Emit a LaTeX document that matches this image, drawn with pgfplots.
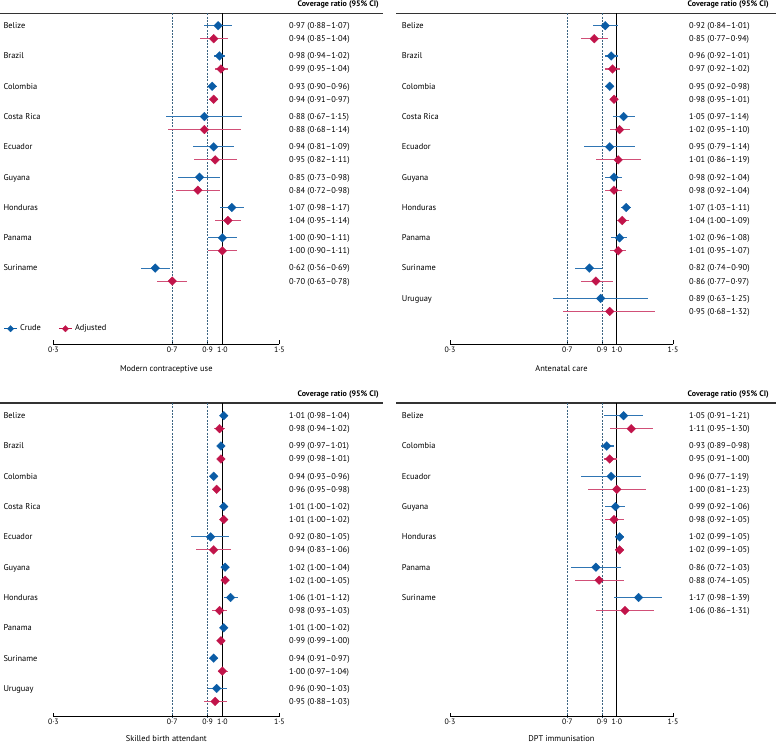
\documentclass[border=0pt]{standalone}
\usepackage{fontspec}
\setmainfont{PT Sans}
\usepackage{pgfplots}
\usepackage{pgfplotstable}
\pgfplotsset{compat=1.18}

\definecolor{cblue}{RGB}{10,92,166}
\definecolor{cred}{RGB}{193,20,74}
\definecolor{dashcol}{RGB}{60,100,130}

\pgfplotstableread{
row ce cl ch ae al ah
0 0.97 0.88 1.07 0.94 0.85 1.04
1 0.98 0.94 1.02 0.99 0.95 1.04
2 0.93 0.90 0.96 0.94 0.91 0.97
3 0.88 0.67 1.15 0.88 0.68 1.14
4 0.94 0.81 1.09 0.95 0.82 1.11
5 0.85 0.73 0.98 0.84 0.72 0.98
6 1.07 0.98 1.17 1.04 0.95 1.14
7 1.00 0.90 1.11 1.00 0.90 1.11
8 0.62 0.56 0.69 0.70 0.63 0.78
}\tmcu

\pgfplotstableread{
row ce cl ch ae al ah
0 0.92 0.84 1.01 0.85 0.77 0.94
1 0.96 0.92 1.01 0.97 0.92 1.02
2 0.95 0.92 0.98 0.98 0.95 1.01
3 1.05 0.97 1.14 1.02 0.95 1.10
4 0.95 0.79 1.14 1.01 0.86 1.19
5 0.98 0.92 1.04 0.98 0.92 1.04
6 1.07 1.03 1.11 1.04 1.00 1.09
7 1.02 0.96 1.08 1.01 0.95 1.07
8 0.82 0.74 0.90 0.86 0.77 0.97
9 0.89 0.63 1.25 0.95 0.68 1.32
}\tanc

\pgfplotstableread{
row ce cl ch ae al ah
0 1.01 0.98 1.04 0.98 0.94 1.02
1 0.99 0.97 1.01 0.99 0.98 1.01
2 0.94 0.93 0.96 0.96 0.95 0.98
3 1.01 1.00 1.02 1.01 1.00 1.02
4 0.92 0.80 1.05 0.94 0.83 1.06
5 1.02 1.00 1.04 1.02 1.00 1.05
6 1.06 1.01 1.12 0.98 0.93 1.03
7 1.01 1.00 1.02 0.99 0.99 1.00
8 0.94 0.91 0.97 1.00 0.97 1.04
9 0.96 0.90 1.03 0.95 0.88 1.03
}\tsba

\pgfplotstableread{
row ce cl ch ae al ah
0 1.05 0.91 1.21 1.11 0.95 1.30
1 0.93 0.89 0.98 0.95 0.91 1.00
2 0.96 0.77 1.19 1.00 0.81 1.23
3 0.99 0.92 1.06 0.98 0.92 1.05
4 1.02 0.99 1.05 1.02 0.99 1.05
5 0.86 0.72 1.03 0.88 0.74 1.05
6 1.17 0.98 1.39 1.06 0.86 1.31
}\tdpt

\newcommand\txtfont{\fontsize{8.4}{9.5}\selectfont}
\newcommand\tickfont{\fontsize{7.8}{9}\selectfont}
\newcommand\hdrfont{\fontsize{8}{9}\selectfont\bfseries}

\pgfplotsset{
  every axis/.append style={
    scale only axis, anchor=south west, clip=false,
    xmin=0.3, xmax=1.5,
    axis y line=none, axis x line=bottom,
    x axis line style={-, black, line width=0.8pt},
    xtick={0.3,0.7,0.9,1,1.5},
    xticklabels={0·3,0·7,0·9,1·0,1·5},
    minor xtick={},
    tick align=inside, major tick length=4pt,
    xtick style={black, line width=0.8pt},
    xticklabel style={font=\tickfont, inner sep=1pt, yshift=-1pt},
  },
}

% #1 x of names, #2 x of CI text, #3 y of first crude row, #4 list
\newcommand\rowtexts[4]{%
  \foreach \nm/\ca/\cb [count=\i from 0] in {#4}{%
    \pgfmathsetmacro\yy{-(#3+30.3*\i)-2.9}%
    \pgfmathsetmacro\yb{\yy-13}%
    \node[anchor=base west, inner sep=0pt] at (#1pt,\yy pt) {\nm};
    \node[anchor=base west, inner sep=0pt] at (#2pt,\yy pt) {\ca};
    \node[anchor=base west, inner sep=0pt] at (#2pt,\yb pt) {\cb};
  }}

\begin{document}
\begin{tikzpicture}[every node/.style={font=\txtfont}]
\useasboundingbox (0pt,0pt) rectangle (776pt,-743pt);

% ---------- rules and headers ----------
\draw[black!80, line width=1.1pt] (0pt,-13.3pt) -- (383pt,-13.3pt);
\draw[black!80, line width=1.1pt] (396pt,-13.3pt) -- (776pt,-13.3pt);
\draw[black!80, line width=1.1pt] (0pt,-403pt) -- (383pt,-403pt);
\draw[black!80, line width=1.1pt] (396pt,-403pt) -- (776pt,-403pt);
\node[anchor=base east, inner sep=0pt, font=\hdrfont] at (379pt,-6.8pt) {Coverage ratio (95\% CI)};
\node[anchor=base east, inner sep=0pt, font=\hdrfont] at (769pt,-6.8pt) {Coverage ratio (95\% CI)};
\node[anchor=base east, inner sep=0pt, font=\hdrfont] at (379pt,-396.5pt) {Coverage ratio (95\% CI)};
\node[anchor=base east, inner sep=0pt, font=\hdrfont] at (769pt,-396.5pt) {Coverage ratio (95\% CI)};

% ---------- panel 1: modern contraceptive use ----------
\begin{axis}[xmode=log, at={(53.3pt,-344.3pt)}, width=226pt, height=331pt, ymin=-344.3, ymax=-13.3,
  legend columns=2, legend cell align=left,
  legend style={draw=none, fill=none, at={(-0.2212,0.047)}, anchor=west, inner sep=0pt,
    font=\txtfont, /tikz/every even column/.append style={column sep=15pt},
    nodes={inner xsep=2.5pt}},
  legend image code/.code={\draw[mark repeat=2,mark phase=2,#1] plot coordinates {(0pt,0pt) (6.5pt,0pt) (13pt,0pt)};}]
\addplot[dashcol, line width=0.7pt, dash pattern=on 2pt off 1.3pt, forget plot] coordinates {(0.7,-13.3) (0.7,-344.3)};
\addplot[dashcol, line width=0.7pt, dash pattern=on 2pt off 1.3pt, forget plot] coordinates {(0.9,-13.3) (0.9,-344.3)};
\addplot[black, line width=0.9pt, forget plot] coordinates {(1,-13.3) (1,-344.3)};
\addplot[forget plot, only marks, mark=square*, mark size=3.1pt, mark options={rotate=45, fill=cblue, draw=cblue, line width=0.2pt},
  error bars/x dir=both, error bars/x explicit, error bars/error mark=none, error bars/error bar style={cblue!85, line width=1.1pt}]
  table[x=ce, y expr={-(25.7+30.3*\thisrow{row})},
  x error plus expr={\thisrow{ch}-\thisrow{ce}}, x error minus expr={\thisrow{ce}-\thisrow{cl}}] {\tmcu};
\addplot[forget plot, only marks, mark=square*, mark size=3.1pt, mark options={rotate=45, fill=cred, draw=cred, line width=0.2pt},
  error bars/x dir=both, error bars/x explicit, error bars/error mark=none, error bars/error bar style={cred!75, line width=1.1pt}]
  table[x=ae, y expr={-(38.7+30.3*\thisrow{row})},
  x error plus expr={\thisrow{ah}-\thisrow{ae}}, x error minus expr={\thisrow{ae}-\thisrow{al}}] {\tmcu};
\addlegendimage{cblue, line width=1.1pt, mark=square*, mark size=2.3pt, mark options={rotate=45, fill=cblue, line width=0.2pt}}
\addlegendentry{Crude}
\addlegendimage{cred, line width=1.1pt, mark=square*, mark size=2.3pt, mark options={rotate=45, fill=cred, line width=0.2pt}}
\addlegendentry{Adjusted}
\end{axis}
\rowtexts{3.3}{289}{25.7}{Belize/0·97 (0·88–1·07)/0·94 (0·85–1·04),
Brazil/0·98 (0·94–1·02)/0·99 (0·95–1·04),
Colombia/0·93 (0·90–0·96)/0·94 (0·91–0·97),
Costa Rica/0·88 (0·67–1·15)/0·88 (0·68–1·14),
Ecuador/0·94 (0·81–1·09)/0·95 (0·82–1·11),
Guyana/0·85 (0·73–0·98)/0·84 (0·72–0·98),
Honduras/1·07 (0·98–1·17)/1·04 (0·95–1·14),
Panama/1·00 (0·90–1·11)/1·00 (0·90–1·11),
Suriname/0·62 (0·56–0·69)/0·70 (0·63–0·78)}
\node[anchor=base] at (166.3pt,-371pt) {Modern contraceptive use};

% ---------- panel 2: antenatal care ----------
\begin{axis}[xmode=log, at={(450pt,-344.3pt)}, width=223pt, height=331pt, ymin=-344.3, ymax=-13.3]
\addplot[dashcol, line width=0.7pt, dash pattern=on 2pt off 1.3pt, forget plot] coordinates {(0.7,-13.3) (0.7,-344.3)};
\addplot[dashcol, line width=0.7pt, dash pattern=on 2pt off 1.3pt, forget plot] coordinates {(0.9,-13.3) (0.9,-344.3)};
\addplot[black, line width=0.9pt, forget plot] coordinates {(1,-13.3) (1,-344.3)};
\addplot[forget plot, only marks, mark=square*, mark size=3.1pt, mark options={rotate=45, fill=cblue, draw=cblue, line width=0.2pt},
  error bars/x dir=both, error bars/x explicit, error bars/error mark=none, error bars/error bar style={cblue!85, line width=1.1pt}]
  table[x=ce, y expr={-(25.7+30.3*\thisrow{row})},
  x error plus expr={\thisrow{ch}-\thisrow{ce}}, x error minus expr={\thisrow{ce}-\thisrow{cl}}] {\tanc};
\addplot[forget plot, only marks, mark=square*, mark size=3.1pt, mark options={rotate=45, fill=cred, draw=cred, line width=0.2pt},
  error bars/x dir=both, error bars/x explicit, error bars/error mark=none, error bars/error bar style={cred!75, line width=1.1pt}]
  table[x=ae, y expr={-(38.7+30.3*\thisrow{row})},
  x error plus expr={\thisrow{ah}-\thisrow{ae}}, x error minus expr={\thisrow{ae}-\thisrow{al}}] {\tanc};
\end{axis}
\rowtexts{401.7}{689}{25.7}{Belize/0·92 (0·84–1·01)/0·85 (0·77–0·94),
Brazil/0·96 (0·92–1·01)/0·97 (0·92–1·02),
Colombia/0·95 (0·92–0·98)/0·98 (0·95–1·01),
Costa Rica/1·05 (0·97–1·14)/1·02 (0·95–1·10),
Ecuador/0·95 (0·79–1·14)/1·01 (0·86–1·19),
Guyana/0·98 (0·92–1·04)/0·98 (0·92–1·04),
Honduras/1·07 (1·03–1·11)/1·04 (1·00–1·09),
Panama/1·02 (0·96–1·08)/1·01 (0·95–1·07),
Suriname/0·82 (0·74–0·90)/0·86 (0·77–0·97),
Uruguay/0·89 (0·63–1·25)/0·95 (0·68–1·32)}
\node[anchor=base] at (561.5pt,-371pt) {Antenatal care};

% ---------- panel 3: skilled birth attendant ----------
\begin{axis}[xmode=log, at={(53.3pt,-716.7pt)}, width=226pt, height=313.7pt, ymin=-716.7, ymax=-403]
\addplot[dashcol, line width=0.7pt, dash pattern=on 2pt off 1.3pt, forget plot] coordinates {(0.7,-403) (0.7,-716.7)};
\addplot[dashcol, line width=0.7pt, dash pattern=on 2pt off 1.3pt, forget plot] coordinates {(0.9,-403) (0.9,-716.7)};
\addplot[black, line width=0.9pt, forget plot] coordinates {(1,-403) (1,-716.7)};
\addplot[forget plot, only marks, mark=square*, mark size=3.1pt, mark options={rotate=45, fill=cblue, draw=cblue, line width=0.2pt},
  error bars/x dir=both, error bars/x explicit, error bars/error mark=none, error bars/error bar style={cblue!85, line width=1.1pt}]
  table[x=ce, y expr={-(415.7+30.3*\thisrow{row})},
  x error plus expr={\thisrow{ch}-\thisrow{ce}}, x error minus expr={\thisrow{ce}-\thisrow{cl}}] {\tsba};
\addplot[forget plot, only marks, mark=square*, mark size=3.1pt, mark options={rotate=45, fill=cred, draw=cred, line width=0.2pt},
  error bars/x dir=both, error bars/x explicit, error bars/error mark=none, error bars/error bar style={cred!75, line width=1.1pt}]
  table[x=ae, y expr={-(428.7+30.3*\thisrow{row})},
  x error plus expr={\thisrow{ah}-\thisrow{ae}}, x error minus expr={\thisrow{ae}-\thisrow{al}}] {\tsba};
\end{axis}
\rowtexts{3.3}{289}{415.7}{Belize/1·01 (0·98–1·04)/0·98 (0·94–1·02),
Brazil/0·99 (0·97–1·01)/0·99 (0·98–1·01),
Colombia/0·94 (0·93–0·96)/0·96 (0·95–0·98),
Costa Rica/1·01 (1·00–1·02)/1·01 (1·00–1·02),
Ecuador/0·92 (0·80–1·05)/0·94 (0·83–1·06),
Guyana/1·02 (1·00–1·04)/1·02 (1·00–1·05),
Honduras/1·06 (1·01–1·12)/0·98 (0·93–1·03),
Panama/1·01 (1·00–1·02)/0·99 (0·99–1·00),
Suriname/0·94 (0·91–0·97)/1·00 (0·97–1·04),
Uruguay/0·96 (0·90–1·03)/0·95 (0·88–1·03)}
\node[anchor=base] at (166.3pt,-741.5pt) {Skilled birth attendant};

% ---------- panel 4: DPT immunisation ----------
\begin{axis}[xmode=log, at={(450pt,-716.7pt)}, width=223pt, height=313.7pt, ymin=-716.7, ymax=-403]
\addplot[dashcol, line width=0.7pt, dash pattern=on 2pt off 1.3pt, forget plot] coordinates {(0.7,-403) (0.7,-716.7)};
\addplot[dashcol, line width=0.7pt, dash pattern=on 2pt off 1.3pt, forget plot] coordinates {(0.9,-403) (0.9,-716.7)};
\addplot[black, line width=0.9pt, forget plot] coordinates {(1,-403) (1,-716.7)};
\addplot[forget plot, only marks, mark=square*, mark size=3.1pt, mark options={rotate=45, fill=cblue, draw=cblue, line width=0.2pt},
  error bars/x dir=both, error bars/x explicit, error bars/error mark=none, error bars/error bar style={cblue!85, line width=1.1pt}]
  table[x=ce, y expr={-(415.7+30.3*\thisrow{row})},
  x error plus expr={\thisrow{ch}-\thisrow{ce}}, x error minus expr={\thisrow{ce}-\thisrow{cl}}] {\tdpt};
\addplot[forget plot, only marks, mark=square*, mark size=3.1pt, mark options={rotate=45, fill=cred, draw=cred, line width=0.2pt},
  error bars/x dir=both, error bars/x explicit, error bars/error mark=none, error bars/error bar style={cred!75, line width=1.1pt}]
  table[x=ae, y expr={-(428.7+30.3*\thisrow{row})},
  x error plus expr={\thisrow{ah}-\thisrow{ae}}, x error minus expr={\thisrow{ae}-\thisrow{al}}] {\tdpt};
\end{axis}
\rowtexts{401.7}{689}{415.7}{Belize/1·05 (0·91–1·21)/1·11 (0·95–1·30),
Colombia/0·93 (0·89–0·98)/0·95 (0·91–1·00),
Ecuador/0·96 (0·77–1·19)/1·00 (0·81–1·23),
Guyana/0·99 (0·92–1·06)/0·98 (0·92–1·05),
Honduras/1·02 (0·99–1·05)/1·02 (0·99–1·05),
Panama/0·86 (0·72–1·03)/0·88 (0·74–1·05),
Suriname/1·17 (0·98–1·39)/1·06 (0·86–1·31)}
\node[anchor=base] at (561.5pt,-741.5pt) {DPT immunisation};
\end{tikzpicture}
\end{document}
